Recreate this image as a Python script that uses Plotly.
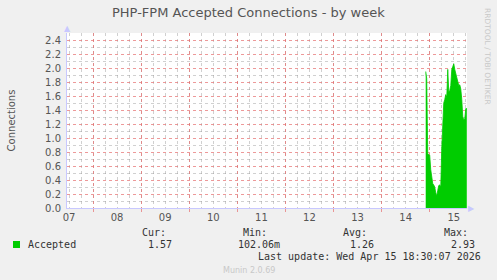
import plotly.graph_objects as go

# ---- data ----
# hours since Apr 07 00:00, 30-minute samples (only the last ~20h have data)
hours = [190.0, 190.5, 191.0, 191.5, 192.0, 192.5, 193.0, 193.5, 194.0, 194.5,
         195.0, 195.5, 196.0, 196.5, 197.0, 197.5, 198.0, 198.5, 199.0, 199.5,
         200.0, 200.5, 201.0, 201.5, 202.0, 202.5, 203.0, 203.5, 204.0, 204.5,
         205.0, 205.5, 206.0, 206.5, 207.0, 207.5, 208.0, 208.5, 209.0, 209.5,
         210.0, 210.5]
accepted = [1.95, 1.85, 0.78, 0.76, 0.75, 0.55, 0.40, 0.35, 0.33, 0.30,
            0.22, 0.17, 0.25, 0.32, 0.33, 0.30, 0.85, 1.30, 1.50, 1.55,
            1.62, 1.58, 1.98, 1.66, 1.68, 1.75, 1.98, 2.02, 2.06, 1.98,
            1.92, 1.88, 1.80, 1.75, 1.76, 1.70, 1.55, 1.30, 1.26, 1.28,
            1.42, 1.42]
tick_hours = [12, 36, 60, 84, 108, 132, 156, 180, 204]
tick_labels = ["07", "08", "09", "10", "11", "12", "13", "14", "15"]
stat_names = ["Cur:", "Min:", "Avg:", "Max:"]
stat_values = ["1.57", "102.06m", "1.26", "2.93"]

W, H = 497, 280
L, R, T, B = 67, 30, 33, 72
x_range = [11, 11 + 400 / 2.004]
y_range = [0, 2.5]

AXIS_COLOR = "#C8C8FF"
MGRID = "rgba(230,110,110,0.7)"
GRID = "rgba(150,150,150,0.45)"
TXT = "#555555"

fig = go.Figure()
fig.add_trace(go.Scatter(
    x=hours, y=accepted, mode="lines", line=dict(color="#00CC00", width=0.8),
    fill="tozeroy", fillcolor="#00CC00", name="Accepted", showlegend=False,
    hoverinfo="skip"))

# invisible trace on overlay axis for major (midnight) grid
fig.add_trace(go.Scatter(x=[x_range[0]], y=[0], xaxis="x2", yaxis="y",
                         mode="markers", marker=dict(opacity=0), showlegend=False,
                         hoverinfo="skip"))

fig.update_layout(
    width=W, height=H,
    margin=dict(l=L, r=R, t=T, b=B),
    paper_bgcolor="#F0F0F0", plot_bgcolor="#FFFFFF",
    font=dict(family="DejaVu Sans", size=10, color=TXT),
    xaxis=dict(range=x_range, tickmode="array", tickvals=tick_hours, ticktext=tick_labels,
               showgrid=False, zeroline=False, showline=True, linecolor=AXIS_COLOR,
               linewidth=1, ticks="", tickfont=dict(size=10, color=TXT),
               minor=dict(dtick=6, tick0=0, showgrid=True, gridcolor=GRID,
                          griddash="dot", gridwidth=1, ticks=""),
               layer="below traces"),
    xaxis2=dict(range=x_range, overlaying="x", tick0=0, dtick=24, showticklabels=False,
                showgrid=True, gridcolor=MGRID, griddash="dot", gridwidth=1,
                zeroline=False, ticks="outside", ticklen=3, tickcolor=MGRID,
                layer="below traces", side="bottom", anchor="y"),
    yaxis=dict(range=y_range, tick0=0, dtick=0.2, tickformat=".1f",
               showgrid=True, gridcolor=MGRID, griddash="dot", gridwidth=1,
               zeroline=False, showline=True, linecolor=AXIS_COLOR, linewidth=1,
               ticks="", tickfont=dict(size=10, color=TXT), ticklabelstandoff=3,
               minor=dict(dtick=0.1, showgrid=True, gridcolor=GRID, griddash="dot",
                          gridwidth=1),
               title=dict(text="Connections", font=dict(size=10, color=TXT), standoff=27)),
    showlegend=False,
)

MONO = "DejaVu Sans Mono"


def px_x(px):
    return (px - L) / (W - L - R)


def px_y(py):
    return (H - B - py) / (H - T - B)


ann = []
ann.append(dict(text="PHP-FPM Accepted Connections - by week", x=px_x(248.5), y=px_y(13),
                xref="paper", yref="paper", xanchor="center", yanchor="middle",
                font=dict(size=13, color=TXT, family="DejaVu Sans"), showarrow=False))
ann.append(dict(text="RRDTOOL / TOBI OETIKER", x=px_x(488), y=px_y(56),
                textangle=90, font=dict(size=7.5, color="#C8C8C8"), showarrow=False,
                xref="paper", yref="paper", xanchor="center", yanchor="middle"))
ann.append(dict(text="Accepted", x=px_x(26), y=px_y(244.5), xanchor="left", yanchor="middle",
                xref="paper", yref="paper", showarrow=False,
                font=dict(family=MONO, size=10, color="#333333")))
head_right = [168, 269, 369, 470]
val_right = [174, 282, 376, 477]
for name, val, hr, vr in zip(stat_names, stat_values, head_right, val_right):
    ann.append(dict(text=name, x=px_x(hr), y=px_y(232.5), xanchor="right", yanchor="middle",
                    xref="paper", yref="paper", showarrow=False,
                    font=dict(family=MONO, size=10, color="#333333")))
    ann.append(dict(text=val, x=px_x(vr), y=px_y(244.5), xanchor="right", yanchor="middle",
                    xref="paper", yref="paper", showarrow=False,
                    font=dict(family=MONO, size=10, color="#333333")))
ann.append(dict(text="Last update: Wed Apr 15 18:30:07 2026", x=px_x(483), y=px_y(256.5),
                xanchor="right", yanchor="middle", xref="paper", yref="paper",
                showarrow=False, font=dict(family=MONO, size=10, color="#333333")))
ann.append(dict(text="Munin 2.0.69", x=px_x(248.5), y=px_y(270), xanchor="center",
                yanchor="middle", xref="paper", yref="paper", showarrow=False,
                font=dict(size=8, color="#C8C8C8")))
# axis arrows
ann.append(dict(text="▲", x=0, y=px_y(29), xref="paper", yref="paper", showarrow=False,
                xanchor="center", yanchor="middle", font=dict(size=8, color=AXIS_COLOR)))
ann.append(dict(text="▶", x=px_x(471), y=0, xref="paper", yref="paper", showarrow=False,
                xanchor="center", yanchor="middle", font=dict(size=8, color=AXIS_COLOR)))
fig.update_layout(annotations=ann)

fig.add_shape(type="rect", xref="paper", yref="paper",
              x0=px_x(13), x1=px_x(20), y0=px_y(241), y1=px_y(248),
              fillcolor="#00CC00", line=dict(width=0))

fig.write_html("out.html")
